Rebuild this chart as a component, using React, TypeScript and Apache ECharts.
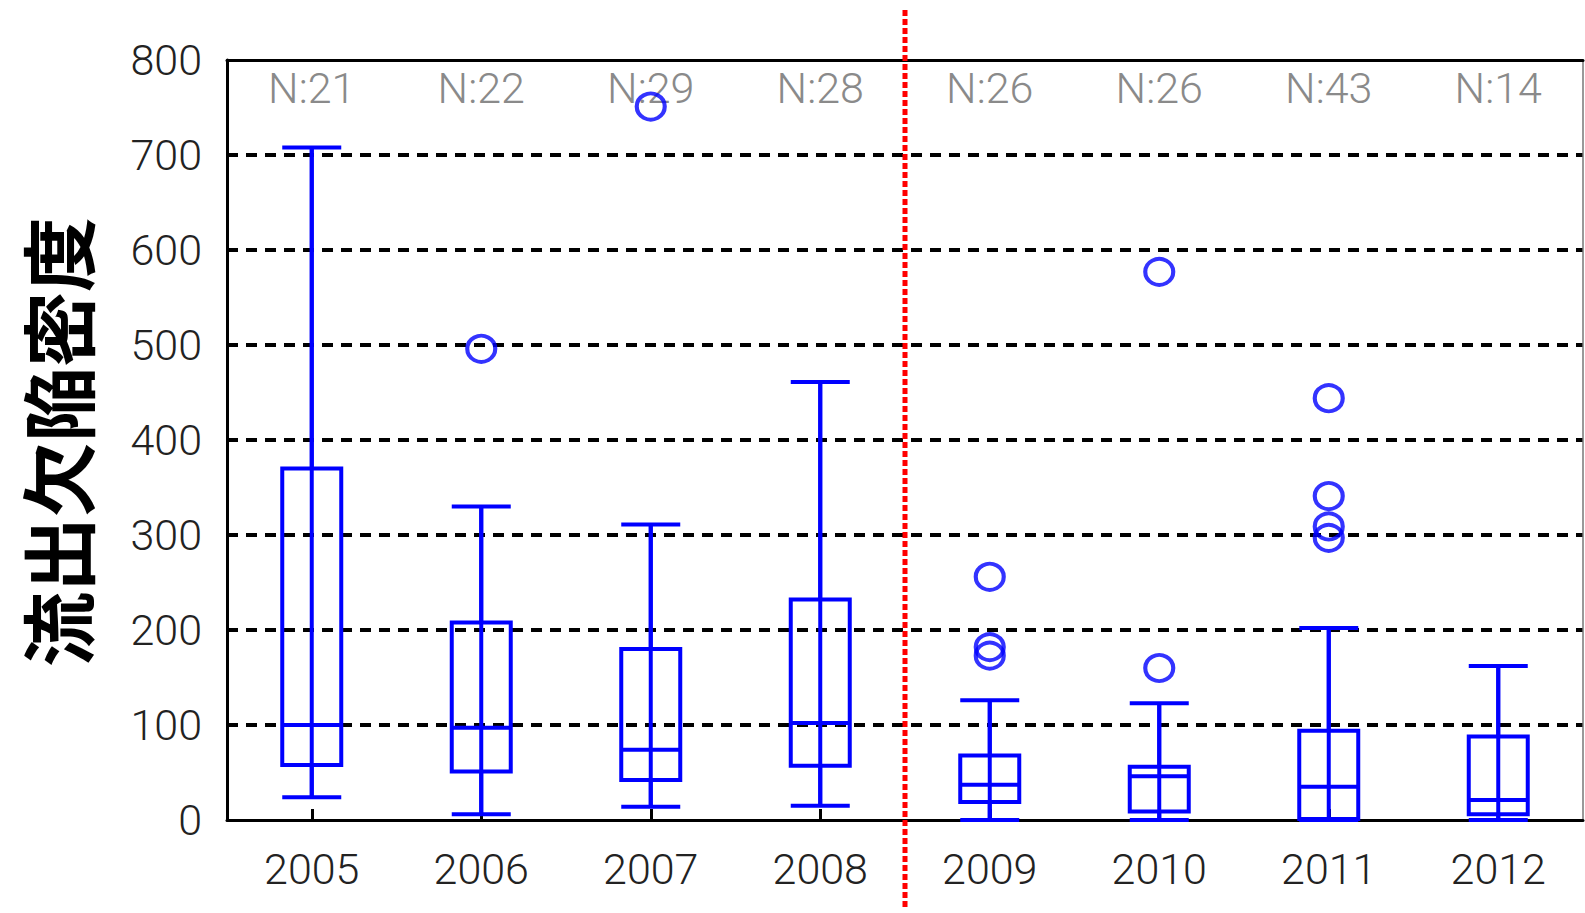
import React, { useEffect, useRef } from "react";
import * as echarts from "echarts";

const years = ["2005", "2006", "2007", "2008", "2009", "2010", "2011", "2012"];
const nCounts = [21, 22, 29, 28, 26, 26, 43, 14];
const whiskerLow = [24, 6, 14, 15, 0, 0, 0, 0];
const q1 = [58, 51, 42, 57, 19, 9, 1, 6];
const median = [100, 97, 74, 102, 37, 46, 35, 21];
const q3 = [370, 208, 180, 232, 68, 56, 94, 88];
const whiskerHigh = [708, 330, 311, 461, 126, 123, 202, 162];
const outliers = [[], [496], [751], [], [256, 182, 173], [577, 160], [444, 341, 309, 297], []];
const yTicks = [0, 800, 100];
const yTitle = "流出欠陥密度";

const BLUE = "#0000ff";
const FONT = "Roboto";

export default function App() {
  const ref = useRef<HTMLDivElement>(null);
  useEffect(() => {
    if (!ref.current) return;
    const chart = echarts.init(ref.current, null, { renderer: "svg" });
    const boxData = years.map((_, i) => [whiskerLow[i], q1[i], median[i], q3[i], whiskerHigh[i]]);
    const stemData = years.map((_, i) => [i, whiskerLow[i], whiskerHigh[i]]);
    const outlierData: number[][] = [];
    outliers.forEach((arr, i) => arr.forEach((v) => outlierData.push([i, v])));
    const titleGraphic = {
      type: "text",
      x: 55,
      y: 442,
      rotation: Math.PI / 2,
      style: {
        text: yTitle,
        fontSize: 75,
        fontFamily: "Noto Sans CJK JP",
        fontWeight: "bold",
        fill: "#000",
        align: "center",
        verticalAlign: "middle",
      },
    };
    chart.setOption({
      animation: false,
      grid: { left: 227, right: 2, top: 60, bottom: 93 },
      xAxis: [
        {
          type: "category",
          data: years,
          position: "bottom",
          axisLine: { onZero: false, lineStyle: { color: "#000", width: 3 } },
          axisTick: { show: true, inside: true, alignWithLabel: true, length: 11, lineStyle: { color: "#000", width: 3 } },
          axisLabel: { fontSize: 43, fontFamily: FONT, fontWeight: 300, color: "#222", margin: 27 },
          splitLine: { show: false },
        },
        {
          type: "category",
          data: years,
          position: "top",
          axisLine: { show: true, onZero: false, lineStyle: { color: "#000", width: 3 } },
          axisTick: { show: false },
          axisLabel: {
            inside: true,
            margin: 6,
            fontSize: 43,
            fontFamily: FONT,
            fontWeight: 300,
            color: "#8a8a8a",
            formatter: (_v: string, i: number) => "N:" + nCounts[i],
          },
        },
      ],
      yAxis: [
        {
          type: "value",
          min: yTicks[0],
          max: yTicks[1],
          interval: yTicks[2],
          position: "left",
          axisLine: { show: true, onZero: false, lineStyle: { color: "#000", width: 3 } },
          axisTick: { show: false },
          axisLabel: { fontSize: 43, fontFamily: FONT, fontWeight: 300, color: "#222", margin: 25 },
          splitLine: {
            show: true,
            showMinLine: false,
            showMaxLine: false,
            lineStyle: { color: "#000", width: 4, type: [11, 8] },
          },
        },
        {
          type: "value",
          min: yTicks[0],
          max: yTicks[1],
          interval: yTicks[2],
          position: "right",
          axisLine: { show: true, onZero: false, lineStyle: { color: "#777", width: 1.5 } },
          axisTick: { show: false },
          axisLabel: { show: false },
          splitLine: { show: false },
        },
      ],
      series: [
        {
          type: "custom",
          data: stemData,
          z: 5,
          renderItem: (_params: any, api: any) => {
            const p1 = api.coord([api.value(0), api.value(1)]);
            const p2 = api.coord([api.value(0), api.value(2)]);
            return {
              type: "line",
              shape: { x1: p1[0], y1: p1[1], x2: p2[0], y2: p2[1] },
              style: { stroke: BLUE, lineWidth: 4 },
            };
          },
        },
        {
          type: "boxplot",
          data: boxData,
          boxWidth: [59, 59],
          itemStyle: { color: "transparent", borderColor: BLUE, borderWidth: 4 },
          z: 6,
        },
        {
          type: "scatter",
          data: outlierData,
          symbol: "circle",
          symbolSize: [28, 26],
          itemStyle: { color: "transparent", borderColor: BLUE, borderWidth: 4 },
          z: 7,
        },
      ],
      graphic: [titleGraphic],
    });
    const a = chart.convertToPixel({ xAxisIndex: 0 }, years[3]) as number;
    const b = chart.convertToPixel({ xAxisIndex: 0 }, years[4]) as number;
    const sx = (a + b) / 2;
    chart.setOption({
      graphic: [
        titleGraphic,
        {
          type: "line",
          z: 100,
          shape: { x1: sx, y1: 10, x2: sx, y2: 910 },
          style: { stroke: "#ff0000", lineWidth: 5, lineDash: [6, 3] },
        },
      ],
    });
    return () => chart.dispose();
  }, []);
  return (
    <div
      ref={ref}
      style={{ position: "fixed", left: 0, top: 0, width: 1585, height: 913, background: "#fff" }}
    />
  );
}
